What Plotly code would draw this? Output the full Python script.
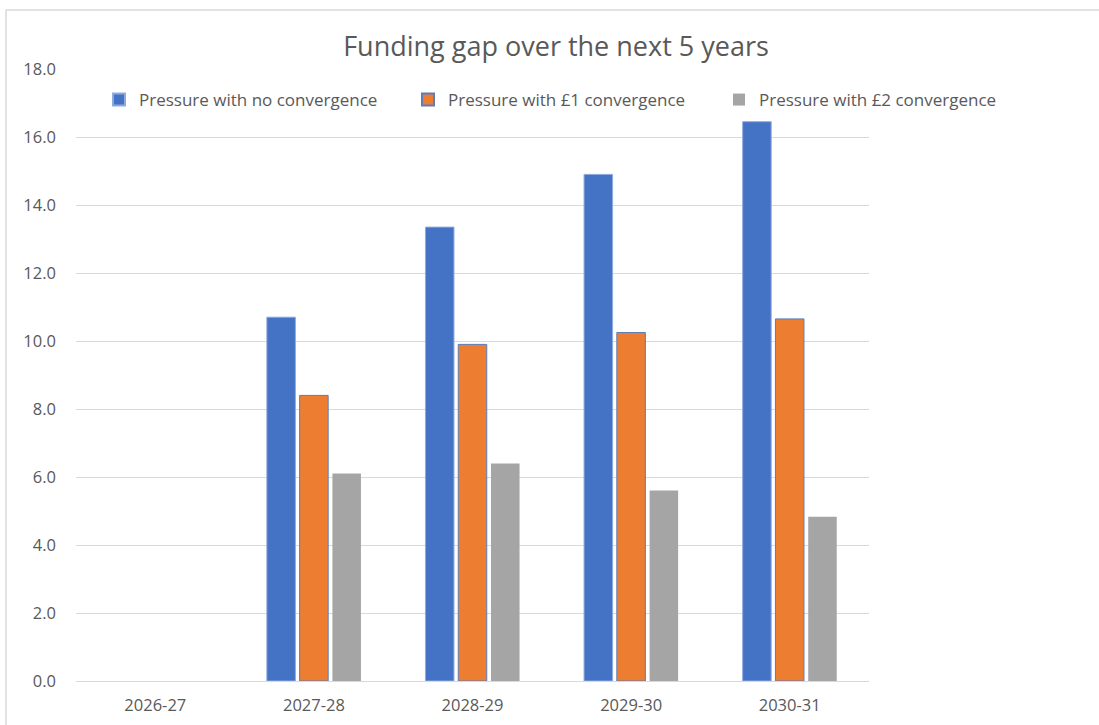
import plotly.graph_objects as go

categories = ["2026-27", "2027-28", "2028-29", "2029-30", "2030-31"]
no_convergence = [None, 10.7, 13.35, 14.9, 16.45]
one_pound_convergence = [None, 8.4, 9.9, 10.25, 10.65]
two_pound_convergence = [None, 6.1, 6.4, 5.6, 4.83]
series_names = ["Pressure with no convergence", "Pressure with £1 convergence", "Pressure with £2 convergence"]
y_ticks = [0, 2, 4, 6, 8, 10, 12, 14, 16, 18]

FONT = "Open Sans"
TXT = "#595959"
W, H = 1099, 725
L, R, T, B = 76, 230, 69, 44

fig = go.Figure()
fig.add_trace(go.Bar(x=categories, y=no_convergence, name=series_names[0],
                     marker=dict(color="#4472C4", line=dict(color="#8FAADC", width=1)),
                     legend="legend", showlegend=True))
fig.add_trace(go.Bar(x=categories, y=one_pound_convergence, name=series_names[1],
                     marker=dict(color="#ED7D31", line=dict(color="#5B7DB8", width=1)),
                     legend="legend2", showlegend=True))
fig.add_trace(go.Bar(x=categories, y=two_pound_convergence, name=series_names[2],
                     marker=dict(color="#A5A5A5", line=dict(color="#A5A5A5", width=0)),
                     legend="legend3", showlegend=True))

def px_x(x):
    return (x - L) / (W - L - R)

def px_y(y):
    return (H - B - y) / (H - T - B)

leg_common = dict(orientation="h", yanchor="middle", xanchor="left",
                  font=dict(family=FONT, size=17, color=TXT),
                  bgcolor="rgba(0,0,0,0)", itemwidth=30, itemsizing="constant", visible=True)

fig.update_layout(
    width=W, height=H,
    margin=dict(l=L, r=R, t=T, b=B, autoexpand=False),
    paper_bgcolor="white", plot_bgcolor="white",
    showlegend=True,
    barmode="group", bargap=0.38, bargroupgap=0.13,
    title=dict(text="Funding gap over the next 5 years", x=(556) / W, xanchor="center",
               y=1 - 47 / H, yanchor="middle", yref="container",
               font=dict(family=FONT, size=27, color=TXT)),
    font=dict(family=FONT, color=TXT),
    legend=dict(**leg_common, x=px_x(99), y=px_y(100)),
    legend2=dict(**leg_common, x=px_x(408), y=px_y(100)),
    legend3=dict(**leg_common, x=px_x(719), y=px_y(100)),
    xaxis=dict(showgrid=False, showline=True, linecolor="#D9D9D9", linewidth=1,
               tickfont=dict(family=FONT, size=16.5, color=TXT), ticks="",
               ticklabelstandoff=9, fixedrange=True, automargin=False),
    yaxis=dict(range=[0, 18], tickvals=y_ticks, ticktext=[f"{v:.1f}" for v in y_ticks],
               showgrid=True, gridcolor="#D9D9D9", gridwidth=1, zeroline=False,
               tickfont=dict(family=FONT, size=16.5, color=TXT), ticks="",
               ticklabelstandoff=19, fixedrange=True, automargin=False),
    shapes=[
        dict(type="line", xref="paper", yref="paper", x0=px_x(6), x1=px_x(1099), y0=px_y(10), y1=px_y(10),
             line=dict(color="#D9D9D9", width=1.5)),
        dict(type="line", xref="paper", yref="paper", x0=px_x(6), x1=px_x(6), y0=px_y(10), y1=px_y(725),
             line=dict(color="#D9D9D9", width=1.5)),
    ],
)

fig.write_html("out.html")
